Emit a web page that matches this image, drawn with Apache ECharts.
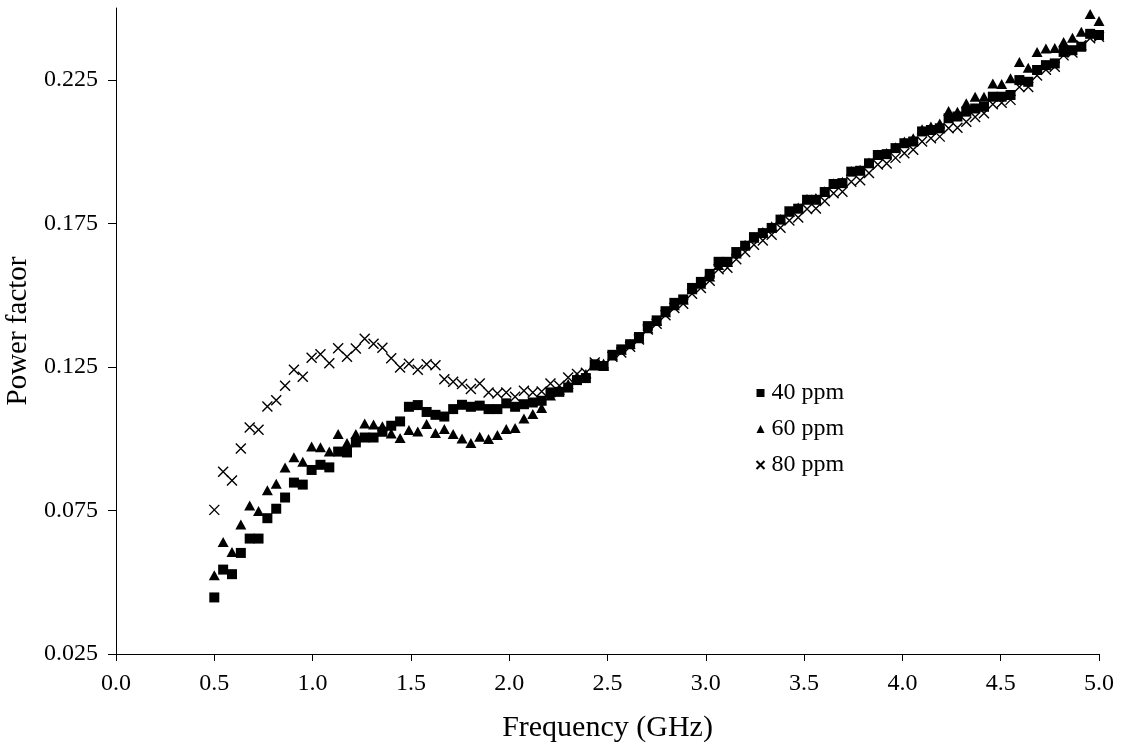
<!DOCTYPE html>
<html>
<head>
<meta charset="utf-8">
<script src="https://cdn.jsdelivr.net/npm/echarts@6/dist/echarts.min.js"></script>
<style>html,body{margin:0;padding:0;background:#fff}#c{width:1121px;height:747px}</style>
</head>
<body>
<div id="c"></div>
<script>
// Frequency (GHz): 101 points, 0.5 .. 5.0 step 0.045
const freqStart = 0.5, freqStep = 0.045;
const ppm40 = [0.0447,0.0544,0.0528,0.0602,0.0652,0.0652,0.0723,0.0756,0.0795,0.0847,
0.0840,0.0891,0.0909,0.0900,0.0955,0.0952,0.0987,0.1004,0.1004,0.1024,
0.1045,0.1060,0.1111,0.1117,0.1093,0.1083,0.1077,0.1103,0.1118,0.1111,
0.1115,0.1103,0.1103,0.1123,0.1111,0.1120,0.1126,0.1132,0.1161,0.1163,
0.1178,0.1204,0.1211,0.1259,0.1253,0.1292,0.1311,0.1329,0.1354,0.1392,
0.1412,0.1444,0.1473,0.1485,0.1525,0.1546,0.1574,0.1616,0.1616,0.1650,
0.1672,0.1702,0.1716,0.1734,0.1763,0.1792,0.1801,0.1832,0.1832,0.1859,
0.1887,0.1890,0.1930,0.1933,0.1959,0.1988,0.1991,0.2012,0.2029,0.2035,
0.2070,0.2075,0.2081,0.2116,0.2122,0.2139,0.2150,0.2156,0.2191,0.2191,
0.2197,0.2249,0.2243,0.2284,0.2301,0.2307,0.2347,0.2353,0.2365,0.2410,0.2406];
const ppm60 = [0.0524,0.0640,0.0605,0.0701,0.0767,0.0748,0.0820,0.0843,0.0900,0.0935,
0.0920,0.0973,0.0970,0.0955,0.1016,0.0985,0.1016,0.1053,0.1049,0.1043,
0.1018,0.1002,0.1030,0.1025,0.1051,0.1020,0.1034,0.1016,0.1001,0.0985,
0.1007,0.0999,0.1013,0.1034,0.1037,0.1070,0.1086,0.1107,0.1150,0.1170,
0.1190,0.1215,0.1225,0.1255,0.1262,0.1290,0.1310,0.1330,0.1350,0.1385,
0.1410,0.1440,0.1465,0.1485,0.1520,0.1540,0.1565,0.1605,0.1615,0.1645,
0.1675,0.1700,0.1720,0.1740,0.1765,0.1790,0.1805,0.1835,0.1838,0.1862,
0.1890,0.1895,0.1932,0.1937,0.1962,0.1990,0.1995,0.2015,0.2035,0.2046,
0.2078,0.2087,0.2098,0.2141,0.2139,0.2168,0.2191,0.2191,0.2237,0.2235,
0.2255,0.2312,0.2292,0.2347,0.2359,0.2361,0.2382,0.2396,0.2417,0.2479,0.2455];
const ppm80 = [0.0752,0.0885,0.0854,0.0966,0.1039,0.1031,0.1112,0.1134,0.1184,0.1240,
0.1216,0.1282,0.1294,0.1263,0.1315,0.1285,0.1314,0.1348,0.1331,0.1317,
0.1280,0.1248,0.1261,0.1240,0.1259,0.1256,0.1207,0.1198,0.1190,0.1173,
0.1192,0.1161,0.1157,0.1161,0.1146,0.1167,0.1161,0.1164,0.1192,0.1184,
0.1213,0.1225,0.1230,0.1265,0.1255,0.1285,0.1300,0.1320,0.1345,0.1380,
0.1400,0.1430,0.1455,0.1470,0.1505,0.1525,0.1550,0.1590,0.1595,0.1625,
0.1650,0.1675,0.1690,0.1710,0.1735,0.1760,0.1770,0.1800,0.1802,0.1828,
0.1855,0.1860,0.1895,0.1900,0.1925,0.1955,0.1958,0.1978,0.1994,0.2006,
0.2035,0.2046,0.2052,0.2081,0.2083,0.2104,0.2120,0.2133,0.2165,0.2170,
0.2180,0.2225,0.2225,0.2265,0.2285,0.2295,0.2335,0.2345,0.2370,0.2395,0.2400];
const yTicks = [0.025, 0.075, 0.125, 0.175, 0.225];
const seriesNames = ['40 ppm', '60 ppm', '80 ppm'];

const freq = ppm40.map((_, i) => +(freqStart + i * freqStep).toFixed(3));
const pairs = arr => arr.map((v, i) => [freq[i], v]);

const font = 'Liberation Serif';
const chart = echarts.init(document.getElementById('c'), null, {renderer: 'canvas'});
const crossPath = 'path://M0,0L10,10M10,0L0,10';
chart.setOption({
  animation: false,
  backgroundColor: '#fff',
  grid: {left: 116, right: 22, top: 8, bottom: 93, containLabel: false, outerBoundsMode: 'none'},
  xAxis: {
    type: 'value', min: 0, max: 5, interval: 0.5,
    name: 'Frequency (GHz)', nameLocation: 'middle', nameGap: 59,
    nameTextStyle: {fontFamily: font, fontSize: 30, color: '#000'},
    axisLine: {lineStyle: {color: '#000', width: 1}},
    axisTick: {show: true, length: 7, lineStyle: {color: '#000'}},
    axisLabel: {fontFamily: font, fontSize: 24, color: '#000', margin: 18,
      formatter: v => v.toFixed(1)},
    splitLine: {show: false}
  },
  yAxis: {
    type: 'value', min: 0.025, max: 0.25,
    name: 'Power factor', nameLocation: 'middle', nameGap: 76,
    nameTextStyle: {fontFamily: font, fontSize: 29, color: '#000'},
    axisLine: {show: true, lineStyle: {color: '#000', width: 1}},
    axisTick: {show: true, length: 8, lineStyle: {color: '#000'}, customValues: yTicks},
    axisLabel: {fontFamily: font, fontSize: 24, color: '#000', margin: 18,
      customValues: yTicks, formatter: v => v.toFixed(3)},
    splitLine: {show: false}
  },
  legend: {
    orient: 'vertical', left: 754, top: 381, itemGap: 12, padding: 0,
    itemWidth: 8, itemHeight: 8,
    textStyle: {fontFamily: font, fontSize: 24, color: '#000', padding: [0, 0, 0, 2]},
    data: seriesNames
  },
  series: [
    {name: seriesNames[0], type: 'scatter', symbol: 'rect', symbolSize: 10,
      itemStyle: {color: '#000', opacity: 1}, data: pairs(ppm40), clip: false},
    {name: seriesNames[1], type: 'scatter', symbol: 'triangle', symbolSize: [11, 10],
      itemStyle: {color: '#000', opacity: 1}, data: pairs(ppm60), clip: false},
    {name: seriesNames[2], type: 'scatter', symbol: crossPath, symbolSize: 10,
      itemStyle: {color: 'none', borderColor: '#000', borderWidth: 1.4, opacity: 1},
      data: pairs(ppm80), clip: false}
  ]
});
</script>
</body>
</html>
